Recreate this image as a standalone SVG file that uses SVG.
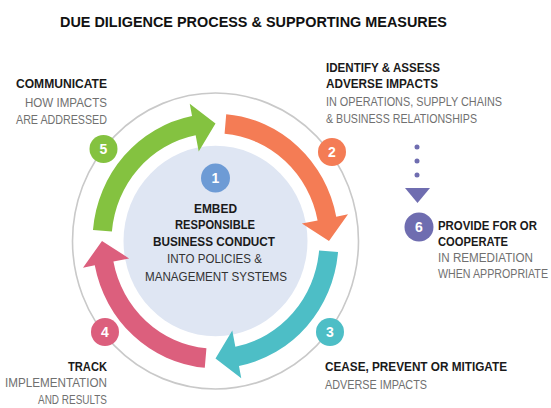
<svg xmlns="http://www.w3.org/2000/svg" width="551" height="408" viewBox="0 0 551 408">
<style>
text{font-family:"Liberation Sans","Open Sans",Arial,sans-serif;}
.t{font-size:15px;font-weight:700;fill:#111;}
.b{font-size:13.5px;font-weight:700;fill:#1a1a1a;}
.l{font-size:13.5px;font-weight:400;fill:#707070;}
.c{font-size:13.5px;font-weight:400;fill:#333;}
.n{font-size:14px;font-weight:700;fill:#fff;text-anchor:middle;}
</style>
<defs>
<path id="arr" d="M 9.07 -103.60 L 10.72 -122.53 A 123 123 0 0 1 120.74 -23.47 L 132.52 -25.76 L 113.5 0 L 86.38 -16.79 L 102.09 -19.84 A 104 104 0 0 0 9.07 -103.60 Z"/>
</defs>
<rect width="551" height="408" fill="#fff"/>
<g id="title"><text class="t" x="60" y="27" textLength="387" lengthAdjust="spacingAndGlyphs">DUE DILIGENCE PROCESS &amp; SUPPORTING MEASURES</text></g>
<g id="wheel" transform="translate(215.5,241) scale(1,1.035)">
<circle r="143" fill="none" stroke="#c9c9c9" stroke-width="1.6"/>
<circle r="92" fill="#dfe6f3"/>
</g>
<g id="connectors">
<g transform="translate(215.5,241) scale(1,1.035)">
<use href="#arr" fill="#f47c55"/>
<use href="#arr" fill="#4dbec6" transform="rotate(90)"/>
<use href="#arr" fill="#dc5f7d" transform="rotate(180)"/>
<use href="#arr" fill="#84c240" transform="rotate(270)"/>
</g>
<g fill="#6f6db0">
<circle cx="417" cy="147" r="2.5"/>
<circle cx="417" cy="161" r="2.5"/>
<circle cx="417" cy="175" r="2.5"/>
<polygon points="405,188 430,188 417.5,203"/>
</g>
</g>
<g id="step1">
<circle cx="215.5" cy="178" r="14.5" fill="#6d9bd5"/>
<text class="n" x="215.5" y="183">1</text>
<text class="b" x="194" y="213" textLength="43" lengthAdjust="spacingAndGlyphs">EMBED</text>
<text class="b" x="175" y="229" textLength="80" lengthAdjust="spacingAndGlyphs">RESPONSIBLE</text>
<text class="b" x="153" y="246" textLength="122" lengthAdjust="spacingAndGlyphs">BUSINESS CONDUCT</text>
<text class="c" x="167" y="263" textLength="95" lengthAdjust="spacingAndGlyphs">INTO POLICIES &amp;</text>
<text class="c" x="145" y="281" textLength="142" lengthAdjust="spacingAndGlyphs">MANAGEMENT SYSTEMS</text>
</g>
<g id="step2">
<circle cx="332" cy="152" r="14" fill="#f47c55"/>
<text class="n" x="332" y="157">2</text>
<text class="b" x="326" y="72" textLength="114" lengthAdjust="spacingAndGlyphs">IDENTIFY &amp; ASSESS</text>
<text class="b" x="326" y="87.5" textLength="112" lengthAdjust="spacingAndGlyphs">ADVERSE IMPACTS</text>
<text class="l" x="326" y="106" textLength="176" lengthAdjust="spacingAndGlyphs">IN OPERATIONS, SUPPLY CHAINS</text>
<text class="l" x="326" y="123" textLength="151" lengthAdjust="spacingAndGlyphs">&amp; BUSINESS RELATIONSHIPS</text>
</g>
<g id="step3">
<circle cx="330" cy="332" r="14" fill="#4dbec6"/>
<text class="n" x="330" y="337">3</text>
<text class="b" x="325" y="371" textLength="182" lengthAdjust="spacingAndGlyphs">CEASE, PREVENT OR MITIGATE</text>
<text class="l" x="325" y="389" textLength="102" lengthAdjust="spacingAndGlyphs">ADVERSE IMPACTS</text>
</g>
<g id="step4">
<circle cx="105" cy="332" r="14" fill="#dc5f7d"/>
<text class="n" x="105" y="337">4</text>
<text class="b" x="68" y="371" textLength="39" lengthAdjust="spacingAndGlyphs">TRACK</text>
<text class="l" x="5" y="387" textLength="102" lengthAdjust="spacingAndGlyphs">IMPLEMENTATION</text>
<text class="l" x="38" y="404" textLength="69" lengthAdjust="spacingAndGlyphs">AND RESULTS</text>
</g>
<g id="step5">
<circle cx="103.5" cy="149" r="14" fill="#84c240"/>
<text class="n" x="103.5" y="154">5</text>
<text class="b" x="16" y="88" textLength="91" lengthAdjust="spacingAndGlyphs">COMMUNICATE</text>
<text class="l" x="25" y="106.5" textLength="82" lengthAdjust="spacingAndGlyphs">HOW IMPACTS</text>
<text class="l" x="16" y="123.5" textLength="91" lengthAdjust="spacingAndGlyphs">ARE ADDRESSED</text>
</g>
<g id="step6">
<circle cx="419" cy="227" r="14.5" fill="#6f6db0"/>
<text class="n" x="419" y="232">6</text>
<text class="b" transform="translate(438,230) scale(0.8,1)" textLength="123.75" lengthAdjust="spacingAndGlyphs">PROVIDE FOR OR</text>
<text class="b" transform="translate(438,246) scale(0.8,1)" textLength="87.5" lengthAdjust="spacingAndGlyphs">COOPERATE</text>
<text class="l" transform="translate(438,262) scale(0.8,1)" textLength="118.75" lengthAdjust="spacingAndGlyphs">IN REMEDIATION</text>
<text class="l" transform="translate(438,278) scale(0.8,1)" textLength="137.5" lengthAdjust="spacingAndGlyphs">WHEN APPROPRIATE</text>
</g>
</svg>
